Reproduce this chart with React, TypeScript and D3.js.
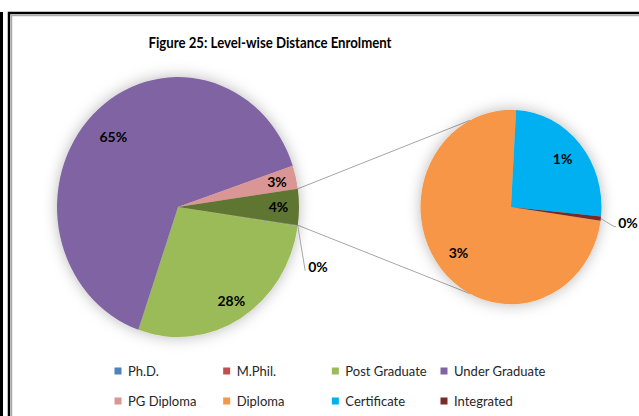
import React from 'react'
import * as d3 from 'd3'

const width = 639
const height = 416

const title = 'Figure 25: Level-wise Distance Enrolment'

// main pie (Ph.D., M.Phil. and the "Other" bucket go round with the rest)
const mainLevels = ['Ph.D.', 'M.Phil.', 'Post Graduate', 'Under Graduate', 'PG Diploma']
const mainValues = [0.05, 0.05, 28.0, 64.6, 2.9]
const mainColors = ['#4F81BD', '#C0504D', '#9BBB59', '#8064A2', '#D99694']

// secondary pie
const subLevels = ['Diploma', 'Certificate', 'Integrated']
const subValues = [3.3, 1.15, 0.03]
const subColors = ['#F79646', '#00B0F0', '#772C2A']
const otherColor = '#5F7530'

const legendLabels = ['Ph.D.', 'M.Phil.', 'Post Graduate', 'Under Graduate', 'PG Diploma', 'Diploma', 'Certificate', 'Integrated']
const legendColors = ['#4F81BD', '#C0504D', '#9BBB59', '#8064A2', '#D99694', '#F79646', '#00B0F0', '#772C2A']

const font = 'Lato, Calibri, sans-serif'
const deg = Math.PI / 180

export default function App() {
    const total = d3.sum(mainValues) + d3.sum(subValues)
    const otherValue = d3.sum(subValues)
    const pct = (v: number) => Math.round(v / total * 100) + '%'

    // primary pie geometry (picture is slightly stretched vertically)
    const cx = 178, cy = 207, r = 121, k = 130 / 121
    const cx2 = 511, cy2 = 207, r2 = 90.5

    const mainData = [...mainValues, otherValue]
    const mainPie = d3.pie<number>().sort(null).value(d => d)
        .startAngle(Math.PI / 2 + Math.PI * otherValue / total)
        .endAngle(Math.PI / 2 + Math.PI * otherValue / total + 2 * Math.PI)
    const mainArcs = mainPie(mainData)
    const arcMain = d3.arc<d3.PieArcDatum<number>>().innerRadius(0).outerRadius(r)

    const otherArc = mainArcs[mainArcs.length - 1]
    const subStart = otherArc.endAngle
    const subPie = d3.pie<number>().sort(null).value(d => d)
        .startAngle(subStart).endAngle(subStart + 2 * Math.PI)
    const subArcs = subPie(subValues)
    const arcSub = d3.arc<d3.PieArcDatum<number>>().innerRadius(0).outerRadius(r2)

    const pt = (x0: number, y0: number, rad: number, a: number): [number, number] =>
        [x0 + rad * Math.sin(a), y0 - rad * Math.cos(a) * k]

    // connector lines between the "Other" slice and the secondary pie
    const c1a = pt(cx, cy, r, otherArc.startAngle)
    const c1b = pt(cx2, cy2, r2, 333 * deg)
    const c2a = pt(cx, cy, r, otherArc.endAngle)
    const c2b = pt(cx2, cy2, r2, 207 * deg)

    const mainLabelR = [0, 0, 0.85, 0.76, 0.84, 0.83]
    const phd = mainArcs[0]
    const phdMid = (phd.startAngle + mainArcs[1].endAngle) / 2
    const phdEdge = pt(cx, cy, r, phdMid)
    const phdEnd = pt(cx, cy, r * 1.16, 115 * deg)

    const intArc = subArcs[2]
    const intMid = (intArc.startAngle + intArc.endAngle) / 2
    const intEdge = pt(cx2, cy2, r2, intMid)
    const intEnd = pt(cx2, cy2, r2 * 1.18, intMid + 3 * deg)

    const legendX = d3.scalePoint<number>().domain([0, 1, 2, 3]).range([118, 444])
    const legendY = d3.scalePoint<number>().domain([0, 1]).range([371, 401])

    const labelStyle = { fontFamily: font, fontWeight: 700, fontSize: 14, fill: '#000' }

    return (
        <svg width={width} height={height} style={{ position: 'absolute', left: 0, top: 0, background: '#fff' }}>
            <defs>
                <filter id="shadow" x="-30%" y="-30%" width="160%" height="160%">
                    <feDropShadow dx="0" dy="0" stdDeviation="7" floodColor="#000" floodOpacity="0.28" />
                </filter>
            </defs>
            {/* frames */}
            <line x1={1.5} y1={12} x2={1.5} y2={height} stroke="#000" strokeWidth={3} />
            <path d={`M9,${height} V13 H${width}`} fill="none" stroke="#000" strokeWidth={2.5} />
            <path d={`M11.5,${height} V15.5 H${width}`} fill="none" stroke="#aaa" strokeWidth={1.5} />

            <text x={270} y={48} textAnchor="middle" textLength={243} lengthAdjust="spacingAndGlyphs"
                style={{ fontFamily: font, fontWeight: 700, fontSize: 16 }}>{title}</text>

            {/* connectors */}
            <line x1={c1a[0]} y1={c1a[1]} x2={c1b[0]} y2={c1b[1]} stroke="#a6a6a6" strokeWidth={1} />
            <line x1={c2a[0]} y1={c2a[1]} x2={c2b[0]} y2={c2b[1]} stroke="#a6a6a6" strokeWidth={1} />

            <g transform={`translate(${cx},${cy}) scale(1,${k})`}>
                <g filter="url(#shadow)">
                    {mainArcs.map((a, i) => (
                        <path key={i} d={arcMain(a) || ''} fill={i < mainColors.length ? mainColors[i] : otherColor} />
                    ))}
                </g>
            </g>
            <g transform={`translate(${cx2},${cy2}) scale(1,${k})`}>
                <g filter="url(#shadow)">
                    {subArcs.map((a, i) => (
                        <path key={i} d={arcSub(a) || ''} fill={subColors[i]} />
                    ))}
                </g>
            </g>

            {/* main labels */}
            {mainArcs.map((a, i) => {
                if (i < 2) return null
                const mid = (a.startAngle + a.endAngle) / 2
                const [x, y] = pt(cx, cy, r * mainLabelR[i], mid)
                return <text key={i} x={x} y={y} dy="0.35em" textAnchor="middle" style={labelStyle}>{pct(a.data)}</text>
            })}
            <polyline points={`${phdEdge[0]},${phdEdge[1]} ${phdEnd[0]},${phdEnd[1]}`} fill="none" stroke="#a6a6a6" strokeWidth={1} />
            <text x={phdEnd[0] + 3} y={phdEnd[1] - 4} dy="0.35em" style={labelStyle}>{pct(mainValues[0])}</text>

            {/* secondary labels */}
            {subArcs.map((a, i) => {
                if (i === 2) return null
                const mid = (a.startAngle + a.endAngle) / 2
                const [x, y] = pt(cx2, cy2, r2 * 0.75, mid)
                return <text key={i} x={x} y={y} dy="0.35em" textAnchor="middle" style={labelStyle}>{pct(a.data)}</text>
            })}
            <polyline points={`${intEdge[0]},${intEdge[1]} ${intEnd[0] - 2},${intEnd[1]} ${intEnd[0]},${intEnd[1]}`} fill="none" stroke="#a6a6a6" strokeWidth={1} />
            <text x={intEnd[0] + 2} y={intEnd[1] - 4} dy="0.35em" style={labelStyle}>{pct(subValues[2])}</text>

            {/* legend */}
            {legendLabels.map((name, i) => {
                const x = legendX(i % 4) as number
                const y = legendY(Math.floor(i / 4)) as number
                return (
                    <g key={name} transform={`translate(${x},${y})`}>
                        <rect x={-3.5} y={-3.5} width={7} height={7} fill={legendColors[i]} />
                        <text x={10} y={0} dy="0.35em" style={{ fontFamily: font, fontSize: 13, fill: '#262626' }}>{name}</text>
                    </g>
                )
            })}
        </svg>
    )
}
